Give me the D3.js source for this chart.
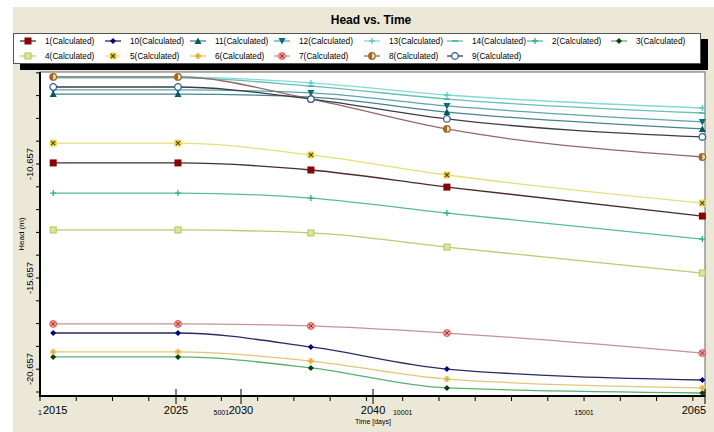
<!DOCTYPE html>
<html>
<head>
<meta charset="utf-8">
<script src="https://cdn.jsdelivr.net/npm/d3@7"></script>
<style>
  body { margin: 0; background: #fff; }
  svg { display: block; font-family: "Liberation Sans", Arial, sans-serif; }
</style>
</head>
<body>
<svg id="chart" width="714" height="432"></svg>
<script>
// time of each calculated point (days)
const days = [365, 3805, 7470, 11220, 18263];

// head (m) per observation point
const head1  = [-10.61, -10.61, -10.92, -11.67, -12.94];
const head10 = [-18.07, -18.07, -18.68, -19.65, -20.13];
const head11 = [-7.59, -7.59, -7.72, -8.38, -9.12];
const head12 = [-7.41, -7.41, -7.54, -8.11, -8.81];
const head13 = [-6.84, -6.84, -7.10, -7.63, -8.20];
const head14 = [-6.88, -6.88, -7.24, -7.81, -8.42];
const head2  = [-11.93, -11.93, -12.15, -12.81, -13.95];
const head3  = [-19.12, -19.12, -19.60, -20.48, -20.70];
const head4  = [-13.55, -13.55, -13.68, -14.30, -15.44];
const head5  = [-9.74, -9.74, -10.26, -11.14, -12.37];
const head6  = [-18.90, -18.90, -19.30, -20.09, -20.48];
const head7  = [-17.67, -17.67, -17.76, -18.07, -18.95];
const head8  = [-6.84, -6.84, -7.81, -9.12, -10.35];
const head9  = [-7.28, -7.28, -7.81, -8.68, -9.47];

// axis labels
const yLabels = [-10.657, -15.657, -20.657];
const dayLabels = [1, 5001, 10001, 15001];
const yearLabels = ["2015", "2025", "2030", "2040", "2065"];
const yearDays = [420, 3751, 5543, 9183, 18336];

const series = [
  {name: "1",  values: head1,  line: "#4a2c2c", mark: "#8b0000", shape: "square"},
  {name: "10", values: head10, line: "#2a2a66", mark: "#000080", shape: "diamond"},
  {name: "11", values: head11, line: "#4a8090", mark: "#005a60", shape: "triUp"},
  {name: "12", values: head12, line: "#5aa4b4", mark: "#006c80", shape: "triDown"},
  {name: "13", values: head13, line: "#84d8d8", mark: "#5cc8d0", shape: "plus"},
  {name: "14", values: head14, line: "#64c0b0", mark: "#40b0a0", shape: "dash"},
  {name: "2",  values: head2,  line: "#58bc98", mark: "#30b080", shape: "plus"},
  {name: "3",  values: head3,  line: "#58b070", mark: "#0a400a", shape: "diamond"},
  {name: "4",  values: head4,  line: "#b8cc70", mark: "#a8c850", shape: "box"},
  {name: "5",  values: head5,  line: "#e6de7c", mark: "#e8d850", shape: "xbox"},
  {name: "6",  values: head6,  line: "#e2c678", mark: "#e0a830", shape: "star"},
  {name: "7",  values: head7,  line: "#c49494", mark: "#e06060", shape: "xcircle"},
  {name: "8",  values: head8,  line: "#946868", mark: "#a06828", shape: "half"},
  {name: "9",  values: head9,  line: "#3c3c44", mark: "#2a5c90", shape: "open"}
];

const svg = d3.select("#chart");
const W = 714, H = 432;

// Margins (plot box)
const margin = ({top: 72, right: 9, bottom: 36, left: 40});
const x0 = margin.left, x1 = W - margin.right;
const y0 = margin.top, y1 = H - margin.bottom;

// background
svg.append("rect").attr("width", W).attr("height", H).attr("fill", "#fff");
svg.append("rect").attr("x", 13).attr("y", 7).attr("width", W - 13).attr("height", H - 7)
  .attr("fill", "#ebe8d7");

// title
svg.append("text").attr("x", 371).attr("y", 24).attr("text-anchor", "middle")
  .attr("font-size", 12).attr("font-weight", "bold").text("Head vs. Time");

const x = d3.scaleLinear().domain([1, 18336]).range([x0, x1]);
const y = d3.scaleLinear().domain([-20.832, -6.622]).range([y1, y0]);

// markers
function drawMarker(g, shape, color) {
  const s = 3;
  switch (shape) {
    case "square":
      g.append("rect").attr("x", -3.5).attr("y", -3.5).attr("width", 7).attr("height", 7).attr("fill", color);
      break;
    case "diamond":
      g.append("path").attr("d", "M0,-3L3,0L0,3L-3,0Z").attr("fill", color);
      break;
    case "triUp":
      g.append("path").attr("d", "M0,-3.5L3.5,3L-3.5,3Z").attr("fill", color);
      break;
    case "triDown":
      g.append("path").attr("d", "M0,3.5L3.5,-3L-3.5,-3Z").attr("fill", color);
      break;
    case "plus":
      g.append("path").attr("d", `M${-s},0H${s}M0,${-s}V${s}`).attr("stroke", color).attr("stroke-width", 1.3).attr("fill", "none");
      break;
    case "dash":
      g.append("path").attr("d", `M${-s},0H${s}`).attr("stroke", color).attr("stroke-width", 1.5);
      break;
    case "box":
      g.append("rect").attr("x", -3).attr("y", -3).attr("width", 6).attr("height", 6)
        .attr("fill", "#d8e8a0").attr("stroke", color).attr("stroke-width", 1);
      break;
    case "xbox":
      g.append("rect").attr("x", -3.5).attr("y", -3.5).attr("width", 7).attr("height", 7).attr("fill", color);
      g.append("path").attr("d", "M-2,-2L2,2M2,-2L-2,2").attr("stroke", "#5a4a10").attr("stroke-width", 1.2);
      break;
    case "star":
      g.append("circle").attr("r", 3).attr("fill", "#f0d890");
      g.append("path").attr("d", `M${-s},0H${s}M0,${-s}V${s}`).attr("stroke", color).attr("stroke-width", 1.3);
      break;
    case "xcircle":
      g.append("circle").attr("r", 3.5).attr("fill", "#f0a0a0").attr("stroke", color);
      g.append("path").attr("d", "M-2,-2L2,2M2,-2L-2,2").attr("stroke", "#a02020").attr("stroke-width", 1);
      break;
    case "half":
      g.append("circle").attr("r", 3.3).attr("fill", "#f0e0b0").attr("stroke", color).attr("stroke-width", 1.2);
      g.append("path").attr("d", "M0,-3.3A3.3,3.3 0 0 0 0,3.3Z").attr("fill", color);
      break;
    case "open":
      g.append("circle").attr("r", 3.3).attr("fill", "#fff").attr("stroke", color).attr("stroke-width", 1.3);
      break;
  }
}

// legend box with shadow
svg.append("rect").attr("x", 20).attr("y", 39).attr("width", 688).attr("height", 31).attr("fill", "#000");
svg.append("rect").attr("x", 13.5).attr("y", 33.5).attr("width", 687).attr("height", 30)
  .attr("fill", "#fff").attr("stroke", "#555");

const legendCols = [45, 130, 215, 299, 389, 472, 552, 636];
const legend = svg.append("g").selectAll("g")
  .data(series)
  .join("g")
  .attr("transform", (d, i) => `translate(${legendCols[i % 8]},${i < 8 ? 41 : 56})`);

legend.append("line").attr("x1", -25).attr("x2", -9).attr("stroke", d => d.line).attr("stroke-width", 1.3);
legend.append("g").attr("transform", "translate(-17,0)").each(function(d) { drawMarker(d3.select(this), d.shape, d.mark); });
legend.append("text").attr("x", 0).attr("dy", "0.35em").attr("font-size", 8.3)
  .text(d => d.name + "(Calculated)");

// plot area
svg.append("rect").attr("x", x0).attr("y", y0).attr("width", x1 - x0).attr("height", y1 - y0)
  .attr("fill", "#fff").attr("stroke", "#666").attr("stroke-width", 1);

svg.append("clipPath").attr("id", "clip").append("rect")
  .attr("x", x0).attr("y", y0 - 4).attr("width", x1 - x0 + 4).attr("height", y1 - y0 + 4);

const g = svg.append("g").attr("clip-path", "url(#clip)");

const line = d3.line()
  .x((d, i) => x(days[i]))
  .y(d => y(d))
  .curve(d3.curveMonotoneX);

g.selectAll("path.series")
  .data(series)
  .join("path")
  .attr("class", "series")
  .attr("fill", "none")
  .attr("stroke", d => d.line)
  .attr("stroke-width", 1.3)
  .attr("d", d => line(d.values));

series.forEach(s => {
  g.append("g").selectAll("g")
    .data(s.values)
    .join("g")
    .attr("transform", (d, i) => `translate(${x(days[i])},${y(d)})`)
    .each(function() { drawMarker(d3.select(this), s.shape, s.mark); });
});

// y axis
const yTicks = d3.range(-6.657, -20.7, -1);
svg.append("g").selectAll("line")
  .data(yTicks)
  .join("line")
  .attr("x1", x0 - 4).attr("x2", x0)
  .attr("y1", d => y(d)).attr("y2", d => y(d))
  .attr("stroke", "#000");

svg.append("g").selectAll("text")
  .data(yLabels)
  .join("text")
  .attr("transform", d => `translate(33,${Math.min(y(d), 369)}) rotate(-90)`)
  .attr("text-anchor", "middle")
  .attr("font-size", 9.5)
  .text(d => d.toFixed(3));

svg.append("text")
  .attr("transform", "translate(21,234) rotate(-90)")
  .attr("text-anchor", "middle").attr("dy", "0.35em")
  .attr("font-size", 8).text("Head (m)");

// x axis: minor day ticks, day labels, year labels
svg.append("g").selectAll("line")
  .data(d3.range(1, 18336, 1000))
  .join("line")
  .attr("x1", d => x(d)).attr("x2", d => x(d))
  .attr("y1", y1).attr("y2", y1 + 5)
  .attr("stroke", "#000");

svg.append("g").selectAll("line")
  .data(yearDays.slice(1))
  .join("line")
  .attr("x1", d => x(d)).attr("x2", d => x(d))
  .attr("y1", y1 - 7).attr("y2", y1 + 8)
  .attr("stroke", "#000");

svg.append("g").selectAll("text")
  .data(dayLabels)
  .join("text")
  .attr("x", d => x(d)).attr("y", 415)
  .attr("text-anchor", "middle").attr("font-size", 7)
  .text(d => d);

svg.append("g").selectAll("text")
  .data(yearLabels)
  .join("text")
  .attr("x", (d, i) => Math.min(x(yearDays[i]), W - 20)).attr("y", 414)
  .attr("text-anchor", "middle").attr("font-size", 11)
  .text(d => d);

svg.append("text").attr("x", 373).attr("y", 424).attr("text-anchor", "middle")
  .attr("font-size", 7).text("Time  [days]");

// axis lines
svg.append("line").attr("x1", x0).attr("x2", x0).attr("y1", y0).attr("y2", y1 + 1)
  .attr("stroke", "#000").attr("stroke-width", 2);
svg.append("line").attr("x1", x0 - 1).attr("x2", x1).attr("y1", y1).attr("y2", y1)
  .attr("stroke", "#000").attr("stroke-width", 2);
</script>
</body>
</html>
